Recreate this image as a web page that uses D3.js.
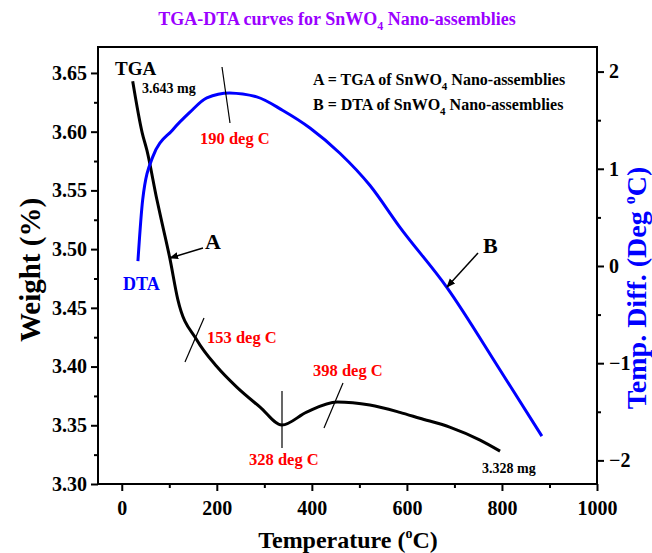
<!DOCTYPE html>
<html><head><meta charset="utf-8">
<script src="https://cdn.jsdelivr.net/npm/d3@7"></script>
<style>
body{margin:0;background:#fff;}
svg{display:block;}
text{font-family:"Liberation Serif","Times New Roman",serif;font-weight:bold;}
</style></head>
<body><svg id="c" width="652" height="553"></svg>
<script>
// ---- data ----
const tgaTemp   = [23, 43, 53, 74, 86, 101, 118, 158, 200, 242, 291, 337, 389, 453, 522, 585, 627, 690, 754, 796];
const tgaWeight = [3.643, 3.599, 3.584, 3.542, 3.520, 3.4925, 3.457, 3.4226, 3.400, 3.3825, 3.3655, 3.3502, 3.3612, 3.3698, 3.3672, 3.361, 3.356, 3.3485, 3.3374, 3.328];
const dtaTemp   = [34, 44, 65, 107, 143, 179, 227, 284, 339, 396, 459, 522, 585, 684, 796, 884];
const dtaDiff   = [0.05, 0.68, 1.12, 1.40, 1.58, 1.73, 1.78, 1.74, 1.60, 1.42, 1.16, 0.83, 0.40, -0.22, -1.07, -1.75];
const xTicks = [0, 200, 400, 600, 800, 1000];
const xMinor = [100, 300, 500, 700, 900];
const yLTicks = [3.30, 3.35, 3.40, 3.45, 3.50, 3.55, 3.60, 3.65];
const yLMinor = [3.325, 3.375, 3.425, 3.475, 3.525, 3.575, 3.625];
const yRTicks = [-2, -1, 0, 1, 2];
const yRMinor = [-1.5, -0.5, 0.5, 1.5];
const peaks = [
  {label:"190 deg C"}, {label:"153 deg C"}, {label:"328 deg C"}, {label:"398 deg C"}
];

const svg = d3.select("#c");
const L = 98, R = 597, T = 47, B = 484;
const x  = d3.scaleLinear().domain([-50, 1000]).range([L, R]);
const yL = d3.scaleLinear().domain([3.30, 3.6721]).range([B, T]);
const yR = d3.scaleLinear().domain([-2.243, 2.253]).range([B, T]);

// defs
svg.append("defs").append("marker").attr("id","arr").attr("viewBox","0 0 10 10")
  .attr("refX",9).attr("refY",5).attr("markerWidth",9).attr("markerHeight",9)
  .attr("markerUnits","userSpaceOnUse").attr("orient","auto")
  .append("path").attr("d","M0,1 L10,5 L0,9 Z").attr("fill","#000");

// title
const title = svg.append("text").attr("x", 337).attr("y", 25).attr("text-anchor","middle")
  .attr("fill","#9b00ff").style("font-size","18px");
title.append("tspan").text("TGA-DTA curves for SnWO");
title.append("tspan").text("4").attr("dy",5).style("font-size","12px");
title.append("tspan").text(" Nano-assemblies").attr("dy",-5);

// axes
function styleAxis(g){ g.select(".domain").remove(); g.selectAll("line").attr("stroke","#000").attr("stroke-width",2); }
svg.append("g").attr("transform",`translate(${L},0)`)
  .call(d3.axisLeft(yL).tickValues(yLTicks).tickSize(7).tickPadding(4).tickFormat(d3.format(".2f")))
  .call(styleAxis).selectAll("text").style("font-size","20px").attr("fill","#000");
svg.append("g").attr("transform",`translate(${L},0)`)
  .call(d3.axisLeft(yL).tickValues(yLMinor).tickSize(4).tickFormat(""))
  .call(styleAxis);
svg.append("g").attr("transform",`translate(0,${B})`)
  .call(d3.axisBottom(x).tickValues(xTicks).tickSize(7).tickPadding(10).tickFormat(d3.format("d")))
  .call(styleAxis).selectAll("text").style("font-size","20px").attr("fill","#000");
svg.append("g").attr("transform",`translate(0,${B})`)
  .call(d3.axisBottom(x).tickValues(xMinor).tickSize(4).tickFormat(""))
  .call(styleAxis);
svg.append("g").attr("transform",`translate(${R},0)`)
  .call(d3.axisRight(yR).tickValues(yRTicks).tickSize(7).tickPadding(5).tickFormat(d3.format("d")))
  .call(styleAxis).selectAll("text").style("font-size","20px").attr("fill","#000");
svg.append("g").attr("transform",`translate(${R},0)`)
  .call(d3.axisRight(yR).tickValues(yRMinor).tickSize(4).tickFormat(""))
  .call(styleAxis);

// frame
svg.append("rect").attr("x",L).attr("y",T).attr("width",R-L).attr("height",B-T)
  .attr("fill","none").attr("stroke","#000").attr("stroke-width",2);

// axis titles
const xt = svg.append("text").attr("x",348).attr("y",548).attr("text-anchor","middle").style("font-size","24px").attr("fill","#000");
xt.append("tspan").text("Temperature (");
xt.append("tspan").text("o").attr("dy",-10).style("font-size","14px");
xt.append("tspan").text("C)").attr("dy",10);

svg.append("text").attr("transform","translate(40,270) rotate(-90)").attr("text-anchor","middle")
  .style("font-size","29px").attr("fill","#000").text("Weight (%)");

const yt = svg.append("text").attr("transform","translate(646,288) rotate(-90)").attr("text-anchor","middle")
  .style("font-size","28px").attr("fill","#0000ff");
yt.append("tspan").text("Temp. Diff. (Deg ");
yt.append("tspan").text("o").attr("dy",-11).style("font-size","16px");
yt.append("tspan").text("C)").attr("dy",11);

// curves
const tga = tgaTemp.map((t,i)=>[t,tgaWeight[i]]);
const dta = dtaTemp.map((t,i)=>[t,dtaDiff[i]]);
svg.append("path").datum(tga).attr("fill","none").attr("stroke","#000").attr("stroke-width",3)
  .attr("d", d3.line().x(d=>x(d[0])).y(d=>yL(d[1])).curve(d3.curveMonotoneX));
svg.append("path").datum(dta).attr("fill","none").attr("stroke","#0000ff").attr("stroke-width",3)
  .attr("d", d3.line().x(d=>x(d[0])).y(d=>yR(d[1])).curve(d3.curveMonotoneX));

// legend text
function sub(sel, a, b){ sel.append("tspan").text(a); sel.append("tspan").text("4").attr("dy",5).style("font-size","11px"); sel.append("tspan").text(b).attr("dy",-5); }
sub(svg.append("text").attr("x",313).attr("y",85).style("font-size","16px").attr("fill","#000"), "A = TGA of SnWO", " Nano-assemblies");
sub(svg.append("text").attr("x",313).attr("y",110).style("font-size","16px").attr("fill","#000"), "B = DTA of SnWO", " Nano-assemblies");

// labels
svg.append("text").attr("x",115).attr("y",75).style("font-size","19px").attr("fill","#000").text("TGA");
svg.append("text").attr("x",142).attr("y",93).style("font-size","14px").attr("fill","#000").text("3.643 mg");
svg.append("text").attr("x",482).attr("y",473).style("font-size","14px").attr("fill","#000").text("3.328 mg");
svg.append("text").attr("x",123).attr("y",290).style("font-size","18px").attr("fill","#0000ff").text("DTA");
svg.append("text").attr("x",205).attr("y",249).style("font-size","22px").attr("fill","#000").text("A");
svg.append("text").attr("x",483).attr("y",253).style("font-size","22px").attr("fill","#000").text("B");
svg.append("line").attr("x1",203).attr("y1",248).attr("x2",170).attr("y2",258).attr("stroke","#000").attr("stroke-width",1.5).attr("marker-end","url(#arr)");
svg.append("line").attr("x1",478).attr("y1",253).attr("x2",447).attr("y2",287).attr("stroke","#000").attr("stroke-width",1.5).attr("marker-end","url(#arr)");

// peak markers
const marks = [
  {x1:222,y1:67,x2:230,y2:123, tx:200, ty:144},
  {x1:204,y1:318,x2:185,y2:362, tx:207, ty:343},
  {x1:282,y1:391,x2:282,y2:448, tx:249, ty:465},
  {x1:343,y1:383,x2:324,y2:428, tx:313, ty:376}
];
marks.forEach((m,i)=>{
  svg.append("line").attr("x1",m.x1).attr("y1",m.y1).attr("x2",m.x2).attr("y2",m.y2).attr("stroke","#000").attr("stroke-width",1.2);
  svg.append("text").attr("x",m.tx).attr("y",m.ty).style("font-size","16.5px").attr("fill","#ff0000").text(peaks[i].label);
});
</script></body></html>
